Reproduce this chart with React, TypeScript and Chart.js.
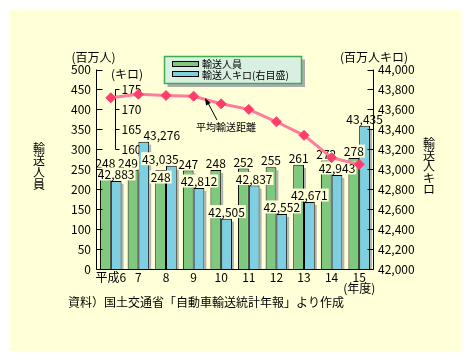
import React, { useEffect, useRef } from 'react';
import { Chart, registerables } from 'chart.js';

Chart.register(...registerables);

const FONT = "'Noto Sans CJK JP', 'Noto Sans', sans-serif";
const PANEL = '#ffffd8';
const GREEN = '#7fc97f';
const BLUE = '#7ecfe2';
const PINK = '#ff7d9c';
const RED = '#ff3d6b';
const SHADOW = '#b4b4b4';

// ---- data ----
const categories = ['平成6', '7', '8', '9', '10', '11', '12', '13', '14', '15'];
const passengers = [248, 249, 248, 247, 248, 252, 255, 261, 272, 278]; // 百万人
const passengerKm = [42883, 43276, 43035, 42812, 42505, 42837, 42552, 42671, 42943, 43435]; // 百万人キロ
const avgDistance = [172.9, 173.8, 173.5, 173.3, 171.4, 170.0, 166.9, 163.5, 157.9, 156.2]; // キロ
const leftTicks = [0, 50, 100, 150, 200, 250, 300, 350, 400, 450, 500];
const rightTicks = [42000, 42200, 42400, 42600, 42800, 43000, 43200, 43400, 43600, 43800, 44000];
const distTicks = [160, 165, 170, 175];

// label placement tweaks (relative to bar)
const greenLabelShift = [0, -5, 0, 0, 0, 0, 0, 0, 0, 0];
const greenLabelInside = [false, false, true, false, false, false, false, false, false, false];
const kmLabelShift = [0, 18, -11, 0, 0, 0, 0, 0, 0, 0];

function boxedLabel(ctx: CanvasRenderingContext2D, text: string, x: number, y: number) {
  ctx.font = `12px ${FONT}`;
  const w = ctx.measureText(text).width;
  ctx.fillStyle = PANEL;
  ctx.fillRect(x - w / 2 - 1, y - 6.5, w + 2, 13);
  ctx.fillStyle = '#000';
  ctx.textAlign = 'center';
  ctx.textBaseline = 'middle';
  ctx.fillText(text, x, y + 0.5);
}

function verticalText(ctx: CanvasRenderingContext2D, text: string, x: number, cy: number, step: number) {
  const chars = Array.from(text);
  const start = cy - ((chars.length - 1) * step) / 2;
  ctx.textAlign = 'center';
  ctx.textBaseline = 'middle';
  chars.forEach((c, i) => ctx.fillText(c, x, start + i * step));
}

export default function App() {
  const ref = useRef<HTMLCanvasElement>(null);

  useEffect(() => {
    const canvas = ref.current!;
    const plugin = {
      id: 'decor',
      beforeDraw(chart: any) {
        const ctx = chart.ctx as CanvasRenderingContext2D;
        ctx.save();
        ctx.fillStyle = '#ffffff';
        ctx.fillRect(0, 0, chart.width, chart.height);
        ctx.fillStyle = PANEL;
        ctx.fillRect(10, 10, 451, 341);
        ctx.restore();
      },
      beforeDatasetsDraw(chart: any) {
        const ctx = chart.ctx as CanvasRenderingContext2D;
        const bottom = chart.chartArea.bottom;
        ctx.save();
        ctx.fillStyle = SHADOW;
        [0, 1].forEach((di) => {
          chart.getDatasetMeta(di).data.forEach((el: any) => {
            const right = el.x + el.width / 2;
            const base = Math.min(el.base, bottom);
            ctx.fillRect(right, el.y + 3, 2, base - el.y - 3);
          });
        });
        // distance axis
        const yd = chart.scales.yd;
        const ax = 115.5;
        ctx.strokeStyle = '#000';
        ctx.lineWidth = 1;
        ctx.beginPath();
        ctx.moveTo(ax, yd.getPixelForValue(distTicks[distTicks.length - 1]));
        ctx.lineTo(ax, yd.getPixelForValue(distTicks[0]));
        distTicks.forEach((t) => {
          const py = Math.round(yd.getPixelForValue(t)) + 0.5;
          ctx.moveTo(ax, py);
          ctx.lineTo(ax + 4, py);
        });
        ctx.stroke();
        ctx.fillStyle = '#000';
        ctx.font = `12px ${FONT}`;
        ctx.textAlign = 'left';
        ctx.textBaseline = 'middle';
        distTicks.forEach((t) => ctx.fillText(String(t), 121.5, yd.getPixelForValue(t)));
        ctx.textAlign = 'center';
        ctx.fillText('(キロ)', 127, 74);
        ctx.restore();
      },
      beforeDatasetDraw(chart: any, args: any) {
        if (args.index !== 2) return;
        const ctx = chart.ctx as CanvasRenderingContext2D;
        ctx.save();
        const g = chart.getDatasetMeta(0).data;
        const b = chart.getDatasetMeta(1).data;
        passengers.forEach((v, i) => {
          const el: any = g[i];
          const y = greenLabelInside[i] ? el.y + 7 : el.y - 7;
          boxedLabel(ctx, String(v), el.x + greenLabelShift[i], y);
        });
        passengerKm.forEach((v, i) => {
          const el: any = b[i];
          boxedLabel(ctx, v.toLocaleString('en-US'), el.x + kmLabelShift[i], el.y - 7);
        });
        ctx.restore();
      },
      afterDraw(chart: any) {
        const ctx = chart.ctx as CanvasRenderingContext2D;
        const { left, right, top, bottom } = chart.chartArea;
        const y = chart.scales.y;
        const y2 = chart.scales.y2;
        const x = chart.scales.x;
        ctx.save();
        ctx.strokeStyle = '#000';
        ctx.lineWidth = 1;
        const lx = Math.round(left) - 0.5;
        const rx = Math.round(right) + 0.5;
        const by = Math.round(bottom) + 0.5;
        ctx.beginPath();
        ctx.moveTo(lx, top);
        ctx.lineTo(lx, by);
        ctx.lineTo(rx, by);
        ctx.moveTo(rx, top);
        ctx.lineTo(rx, by);
        leftTicks.forEach((t) => {
          const py = Math.round(y.getPixelForValue(t)) + 0.5;
          ctx.moveTo(lx, py);
          ctx.lineTo(lx + 6, py);
        });
        rightTicks.forEach((t) => {
          const py = Math.round(y2.getPixelForValue(t)) + 0.5;
          ctx.moveTo(rx, py);
          ctx.lineTo(rx - 6, py);
        });
        ctx.stroke();

        ctx.fillStyle = '#000';
        ctx.font = `12px ${FONT}`;
        ctx.textBaseline = 'middle';
        ctx.textAlign = 'right';
        leftTicks.forEach((t) => ctx.fillText(String(t), 91, y.getPixelForValue(t)));
        ctx.textAlign = 'left';
        rightTicks.forEach((t) => ctx.fillText(t.toLocaleString('en-US'), 378, y2.getPixelForValue(t)));
        ctx.textAlign = 'center';
        categories.forEach((c, i) => ctx.fillText(c, x.getPixelForValue(i), 277));
        ctx.fillText('(年度)', x.getPixelForValue(categories.length - 1), 288.5);
        ctx.fillText('(百万人)', 93.5, 57.5);
        ctx.fillText('(百万人キロ)', 374, 57.5);
        verticalText(ctx, '輸送人員', 39, 166.5, 12);
        verticalText(ctx, '輸送人キロ', 429, 166.5, 11.5);
        ctx.textAlign = 'left';
        ctx.fillText('資料）国土交通省「自動車輸送統計年報」より作成', 68, 302);

        // legend
        ctx.fillStyle = '#ababab';
        ctx.fillRect(167.5, 59.5, 137.5, 27.5);
        ctx.fillStyle = '#d9f0e1';
        ctx.fillRect(164.5, 56.5, 137, 27);
        ctx.strokeStyle = '#3fae52';
        ctx.lineWidth = 1.5;
        ctx.strokeRect(164.5, 56.5, 137, 27);
        ctx.lineWidth = 1;
        ctx.strokeStyle = '#000';
        ctx.fillStyle = GREEN;
        ctx.fillRect(172.5, 61.5, 26, 5);
        ctx.strokeRect(172.5, 61.5, 26, 5);
        ctx.fillStyle = BLUE;
        ctx.fillRect(172.5, 71.5, 26, 5);
        ctx.strokeRect(172.5, 71.5, 26, 5);
        ctx.fillStyle = '#000';
        ctx.font = `10px ${FONT}`;
        ctx.textAlign = 'left';
        ctx.fillText('輸送人員', 202, 64.5);
        ctx.fillText('輸送人キロ(右目盛)', 202, 75);

        // annotation
        ctx.fillText('平均輸送距離', 196, 127);
        ctx.beginPath();
        ctx.moveTo(217, 120);
        ctx.lineTo(207.5, 102);
        ctx.stroke();
        const tipX = 205, tipY = 98;
        const ang = Math.atan2(120 - tipY, 217 - tipX);
        const len = 7, half = 2.6;
        const bx = tipX + Math.cos(ang) * len, byy = tipY + Math.sin(ang) * len;
        ctx.beginPath();
        ctx.moveTo(tipX, tipY);
        ctx.lineTo(bx - Math.sin(ang) * half, byy + Math.cos(ang) * half);
        ctx.lineTo(bx + Math.sin(ang) * half, byy - Math.cos(ang) * half);
        ctx.closePath();
        ctx.fill();
        ctx.restore();
      },
    };

    const chart = new Chart(canvas, {
      type: 'bar',
      data: {
        labels: categories,
        datasets: [
          {
            type: 'bar',
            label: '輸送人員',
            data: passengers,
            yAxisID: 'y',
            backgroundColor: GREEN,
            borderColor: '#000',
            borderWidth: 1,
            categoryPercentage: 0.78,
            barPercentage: 1,
            order: 1,
          },
          {
            type: 'bar',
            label: '輸送人キロ(右目盛)',
            data: passengerKm,
            yAxisID: 'y2',
            backgroundColor: BLUE,
            borderColor: '#000',
            borderWidth: 1,
            categoryPercentage: 0.78,
            barPercentage: 1,
            order: 1,
          },
          {
            type: 'line',
            label: '平均輸送距離',
            data: avgDistance,
            yAxisID: 'yd',
            borderColor: PINK,
            borderWidth: 3,
            pointStyle: 'rectRot',
            pointRadius: 5,
            pointBackgroundColor: RED,
            pointBorderColor: RED,
            pointBorderWidth: 1,
            tension: 0,
            order: 0,
          } as any,
        ],
      },
      options: {
        responsive: false,
        animation: false,
        devicePixelRatio: 1,
        layout: { padding: { left: 97, right: 98, top: 69.5, bottom: 92 } },
        plugins: { legend: { display: false }, tooltip: { enabled: false } },
        scales: {
          x: { type: 'category', display: false, offset: true },
          y: { type: 'linear', display: false, min: 0, max: 500 },
          y2: { type: 'linear', display: false, min: 42000, max: 44000 },
          yd: { type: 'linear', display: false, min: 130, max: 180 },
        },
      },
      plugins: [plugin],
    } as any);
    return () => chart.destroy();
  }, []);

  return (
    <div style={{ position: 'fixed', left: 0, top: 0, width: 471, height: 361 }}>
      <canvas ref={ref} width={471} height={361} style={{ display: 'block', width: 471, height: 361 }} />
    </div>
  );
}
